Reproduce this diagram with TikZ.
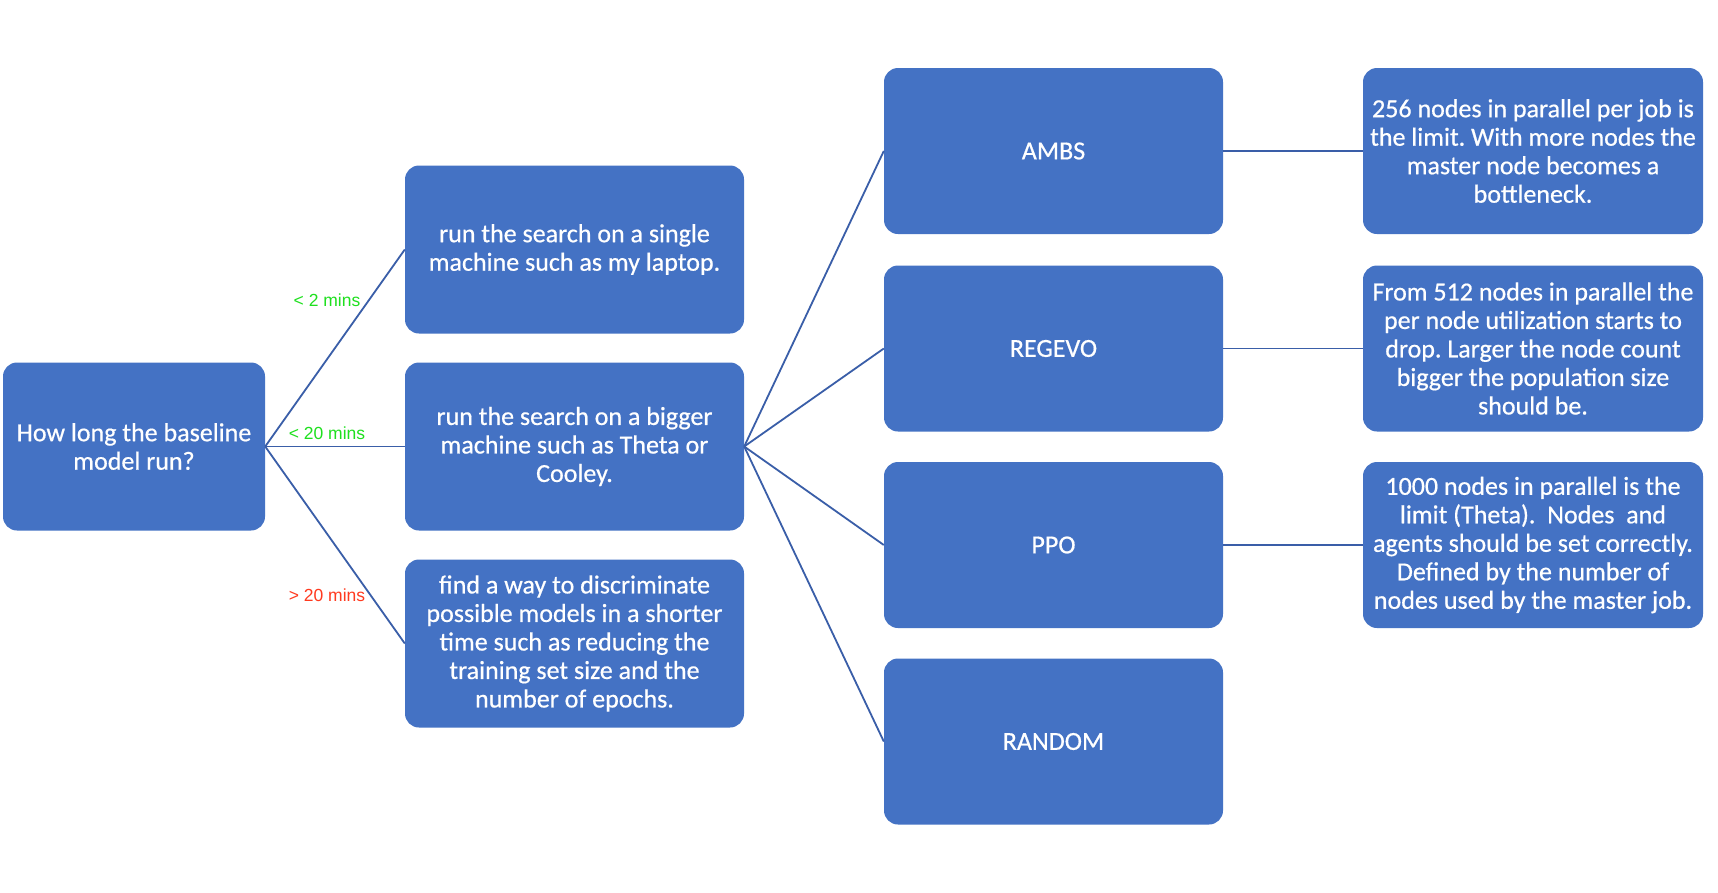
\documentclass[tikz,border=0pt]{standalone}
\usepackage{fontspec}
\setmainfont[FakeBold=0.6]{Carlito}
\newfontfamily\lblfont{Liberation Sans}
\definecolor{boxblue}{HTML}{4472C4}
\definecolor{lineblue}{HTML}{3A5EA8}
\definecolor{lblgreen}{HTML}{1EE01E}
\definecolor{lblred}{HTML}{FF3A1F}
\frenchspacing
\begin{document}
\begin{tikzpicture}[x=1pt,y=-1pt,
  box/.style={fill=boxblue, rounded corners=14pt, text=white, align=center,
    font=\fontsize{26}{28.5}\selectfont, inner sep=0pt},
  rootbox/.style={box, minimum width=262pt, minimum height=168pt},
  midbox/.style={box, minimum width=339pt, minimum height=168pt},
  algbox/.style={box, minimum width=339pt, minimum height=166pt},
  notebox/.style={box, minimum width=340pt, minimum height=166pt},
  link/.style={draw=lineblue, line width=1.8pt},
  lbl/.style={font=\lblfont\fontsize{17.5}{20}\selectfont, inner sep=0pt}]
\useasboundingbox (0,0) rectangle (1718,892);
\fill[white] (0,0) rectangle (1718,892);

\node[rootbox] (root) at (134,446.5) {How long the baseline\\model run?};

\node[midbox] (m1) at (574.5,249.5) {run the search on a single\\machine such as my laptop.};
\node[midbox] (m2) at (574.5,446.5) {run the search on a bigger\\machine such as Theta or\\Cooley.};
\node[midbox] (m3) at (574.5,643.5) {find a way to discriminate\\possible models in a shorter\\time such as reducing the\\training set size and the\\number of epochs.};

\node[algbox] (a1) at (1053.5,151) {AMBS};
\node[algbox] (a2) at (1053.5,348.5) {REGEVO};
\node[algbox] (a3) at (1053.5,545) {PPO};
\node[algbox] (a4) at (1053.5,741.5) {RANDOM};

\node[notebox] (n1) at (1533,151) {256 nodes in parallel per job is\\the limit. With more nodes the\\master node becomes a\\bottleneck.};
\node[notebox] (n2) at (1533,348.5) {From 512 nodes in parallel the\\per node utilization starts to\\drop. Larger the node count\\bigger the population size\\should be.};
\node[notebox] (n3) at (1533,545) {1000 nodes in parallel is the\\limit (Theta).\ \ Nodes\ \ and\\agents should be set correctly.\\Defined by the number of\\nodes used by the master job.};

\draw[link] (root.east) -- (m1.west);
\draw[link] (root.east) -- (m2.west);
\draw[link] (root.east) -- (m3.west);

\node[lbl, text=lblgreen] (l1) at (327,300) {< 2 mins};
\node[lbl, text=lblgreen] (l2) at (327,433) {< 20 mins};
\node[lbl, text=lblred] (l3) at (327,595) {> 20 mins};

\draw[link] (m2.east) -- (a1.west);
\draw[link] (m2.east) -- (a2.west);
\draw[link] (m2.east) -- (a3.west);
\draw[link] (m2.east) -- (a4.west);

\draw[link] (a1.east) -- (n1.west);
\draw[link] (a2.east) -- (n2.west);
\draw[link] (a3.east) -- (n3.west);
\end{tikzpicture}
\end{document}
